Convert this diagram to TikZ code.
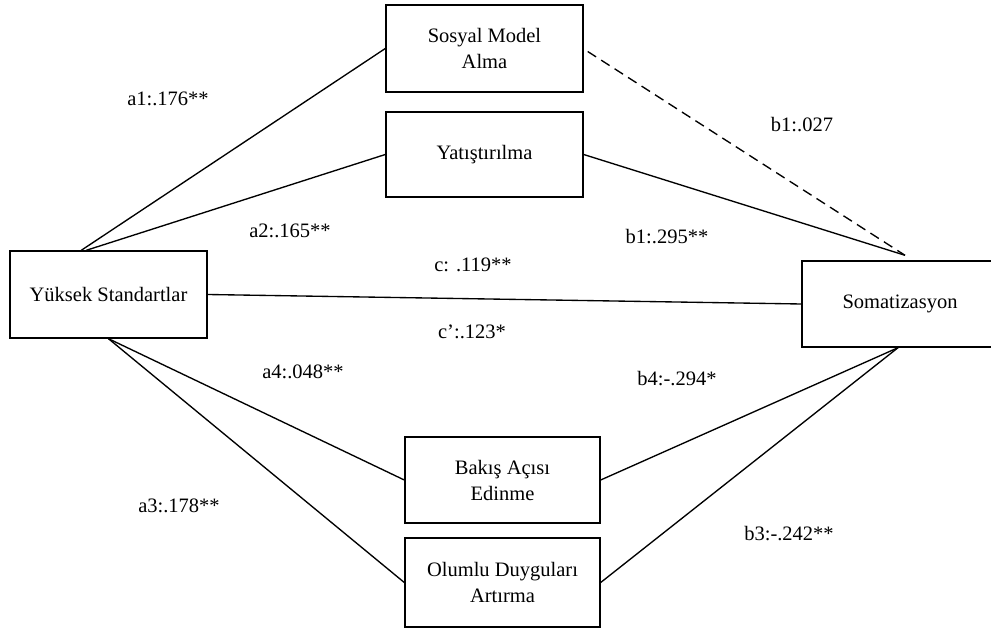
\documentclass[tikz,border=0pt]{standalone}
\usepackage{fontspec}
\setmainfont{Liberation Serif}
\usetikzlibrary{calc}
\begin{document}
\begin{tikzpicture}[x=1pt,y=-1pt,
  every node/.style={font=\fontsize{20.5}{26}\selectfont},
  box/.style={draw, line width=1.4pt, inner sep=0pt, align=center},
  link/.style={line width=1.35pt},
  weak/.style={link, dash pattern=on 10pt off 6pt},
  coef/.style={inner sep=0pt}]
\useasboundingbox (0,0) rectangle (991,628);

% variable boxes
\node[box, minimum width=197pt, minimum height=87pt] (sm) at (484.5,48.5) {Sosyal Model\\Alma};
\node[box, minimum width=197pt, minimum height=85pt] (ya) at (484.5,154.5) {Yatıştırılma};
\node[box, minimum width=197pt, minimum height=87pt] (ys) at (108.5,294.5) {Yüksek Standartlar};
\node[box, minimum width=198pt, minimum height=86pt] (so) at (901,304) {};
\node (sotext) at (900,304) {Somatizasyon};
\node[box, minimum width=195pt, minimum height=86pt] (bk) at (502.5,480) {Bakış Açısı\\Edinme};
\node[box, minimum width=195pt, minimum height=89pt] (ol) at (502.5,582.5) {Olumlu Duyguları\\Artırma};

% paths
\coordinate (tip) at ($(so.north)+(4,-5)$);
\coordinate (meet) at ($(so.south)+(-3,0)$);
\draw[link] ($(ys.north west)+(72,0)$) -- (sm.west);
\draw[link] ($(ys.north west)+(77,0)$) -- (ya.west);
\draw[link] (ys.east) -- (so.west);
\draw[link] (ys.south) -- (bk.west);
\draw[link] (ys.south) -- (ol.west);
\draw[weak] ($(sm.east)+(4,3)$) -- (tip);
\draw[link] (ya.east) -- (tip);
\draw[link] (bk.east) -- (meet);
\draw[link] (ol.east) -- (meet);

% coefficients
\node[coef] (la1) at (168,99) {a1:.176**};
\node[coef] (la2) at (290,231) {a2:.165**};
\node[coef] (lc) at (473,265) {c: .119**};
\node[coef] (lcp) at (472,332) {c’:.123*};
\node[coef] (lb1d) at (802,125) {b1:.027};
\node[coef] (lb1) at (667,237) {b1:.295**};
\node[coef] (la4) at (303,372) {a4:.048**};
\node[coef] (lb4) at (677,379) {b4:-.294*};
\node[coef] (la3) at (179,506) {a3:.178**};
\node[coef] (lb3) at (789,534) {b3:-.242**};
\end{tikzpicture}
\end{document}
